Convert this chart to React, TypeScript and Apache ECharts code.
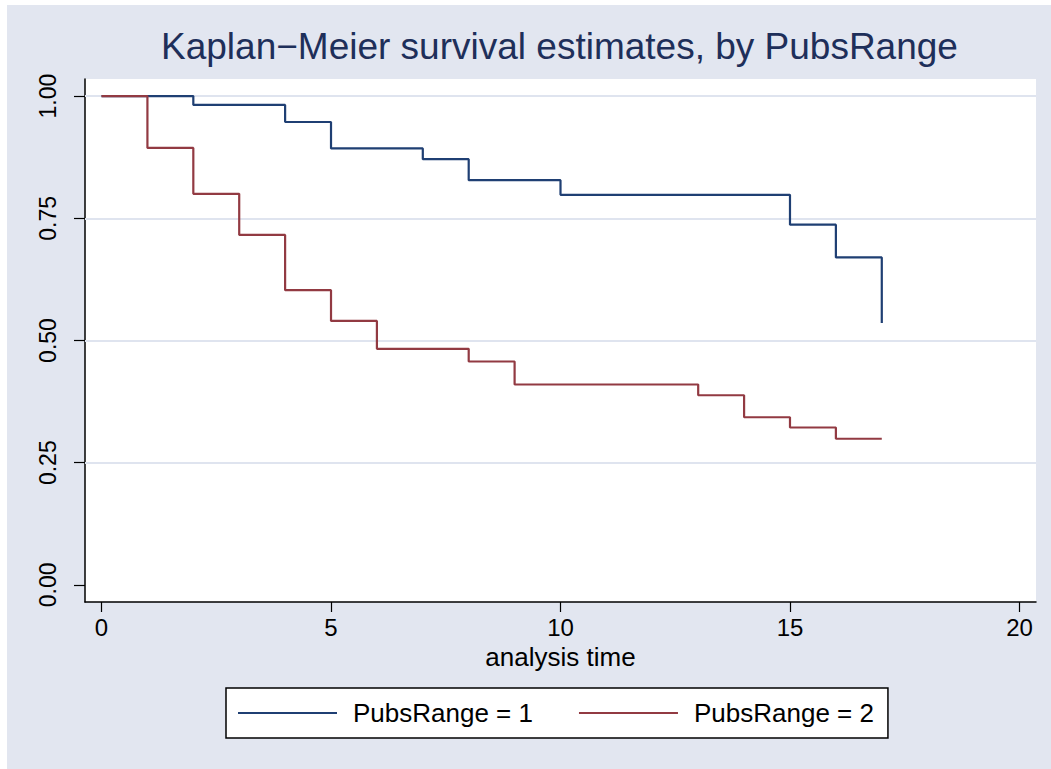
import React, { useEffect, useRef } from "react";
import * as echarts from "echarts";

const TITLE = "Kaplan\u2212Meier survival estimates, by PubsRange";
const X_NAME = "analysis time";
const X_TICKS = [0, 5, 10, 15, 20];
const Y_TICKS = [0, 0.25, 0.5, 0.75, 1];
const Y_GRID = [0.25, 0.5, 0.75, 1];

const SERIES1_NAME = "PubsRange = 1";
const SERIES2_NAME = "PubsRange = 2";

// [time, survival]
const series1: [number, number][] = [
  [0, 1], [2, 0.982], [4, 0.947], [5, 0.893], [7, 0.871], [8, 0.828],
  [10, 0.798], [15, 0.737], [16, 0.67], [17, 0.536],
];
const series2: [number, number][] = [
  [0, 1], [1, 0.894], [2, 0.8], [3, 0.716], [4, 0.603], [5, 0.54], [6, 0.483],
  [8, 0.457], [9, 0.41], [13, 0.388], [14, 0.343], [15, 0.322], [16, 0.299], [17, 0.299],
];

const FONT = "'Liberation Sans', Arial, Helvetica, sans-serif";
const BLUE = "#1f3f73";
const RED = "#923a42";
const BG = "#e2e6f0";

export default function App() {
  const ref = useRef<HTMLDivElement>(null);
  useEffect(() => {
    if (!ref.current) return;
    const chart = echarts.init(ref.current, null, { renderer: "svg" });
    chart.setOption({
      animation: false,
      backgroundColor: BG,
      textStyle: { fontFamily: FONT },
      title: {
        text: TITLE,
        left: 161,
        top: 28,
        padding: 0,
        textStyle: { fontFamily: FONT, fontSize: 37, fontWeight: "normal", color: "#1e2f5a" },
      },
      graphic: [
        { type: "rect", shape: { x: 0, y: 0, width: 1051, height: 5 }, style: { fill: "#ffffff" }, silent: true },
        { type: "rect", shape: { x: 0, y: 0, width: 7, height: 769 }, style: { fill: "#ffffff" }, silent: true },
      ],
      legend: {
        data: [SERIES1_NAME, SERIES2_NAME],
        left: 226,
        top: 688,
        orient: "horizontal",
        icon: "rect",
        itemWidth: 99,
        itemHeight: 2,
        itemGap: 46,
        padding: [12, 14, 12, 12],
        backgroundColor: "#ffffff",
        borderColor: "#000000",
        borderWidth: 1.5,
        borderRadius: 0,
        selectedMode: false,
        textStyle: { fontFamily: FONT, fontSize: 26, color: "#000", padding: [0, 0, 0, 11] },
      },
      grid: {
        left: 85,
        right: 15,
        top: 79,
        bottom: 167,
        show: true,
        backgroundColor: "#ffffff",
        borderWidth: 0,
        containLabel: false,
        outerBoundsMode: "none",
      },
      xAxis: {
        type: "value",
        min: -0.36,
        max: 20.36,
        name: X_NAME,
        nameLocation: "middle",
        nameGap: 38,
        nameTextStyle: { fontFamily: FONT, fontSize: 26, color: "#000" },
        axisLine: { show: true, onZero: false, lineStyle: { color: "#000", width: 1.5 } },
        axisTick: { show: true, customValues: X_TICKS, length: 10, lineStyle: { color: "#000", width: 1.2 } },
        axisLabel: {
          show: true,
          customValues: X_TICKS,
          fontFamily: FONT,
          fontSize: 24,
          color: "#000",
          margin: 13,
          formatter: (v: number) => String(v),
        },
        splitLine: { show: false },
      },
      yAxis: {
        type: "value",
        min: -0.035,
        max: 1.035,
        axisLine: { show: true, onZero: false, lineStyle: { color: "#000", width: 1.5 } },
        axisTick: { show: true, customValues: Y_TICKS, length: 11, lineStyle: { color: "#000", width: 1.2 } },
        axisLabel: {
          show: true,
          customValues: Y_TICKS,
          rotate: 90,
          fontFamily: FONT,
          fontSize: 23,
          color: "#000",
          margin: 26,
          formatter: (v: number) => v.toFixed(2),
        },
        splitLine: { show: false },
      },
      series: [
        {
          name: "grid",
          type: "line",
          data: [],
          z: 1,
          silent: true,
          markLine: {
            z: 1,
            silent: true,
            symbol: "none",
            label: { show: false },
            lineStyle: { color: "#dfe4ef", width: 2, type: "solid" },
            data: Y_GRID.map((v) => ({ yAxis: v })),
          },
        },
        {
          name: SERIES1_NAME,
          type: "line",
          step: "end",
          data: series1,
          color: BLUE,
          showSymbol: false,
          symbol: "none",
          z: 3,
          lineStyle: { color: BLUE, width: 2.2 },
        },
        {
          name: SERIES2_NAME,
          type: "line",
          step: "end",
          data: series2,
          color: RED,
          showSymbol: false,
          symbol: "none",
          z: 4,
          lineStyle: { color: RED, width: 2.2 },
        },
      ],
    });
    return () => chart.dispose();
  }, []);
  return (
    <div
      ref={ref}
      style={{ position: "fixed", left: 0, top: 0, width: 1051, height: 769 }}
    />
  );
}
